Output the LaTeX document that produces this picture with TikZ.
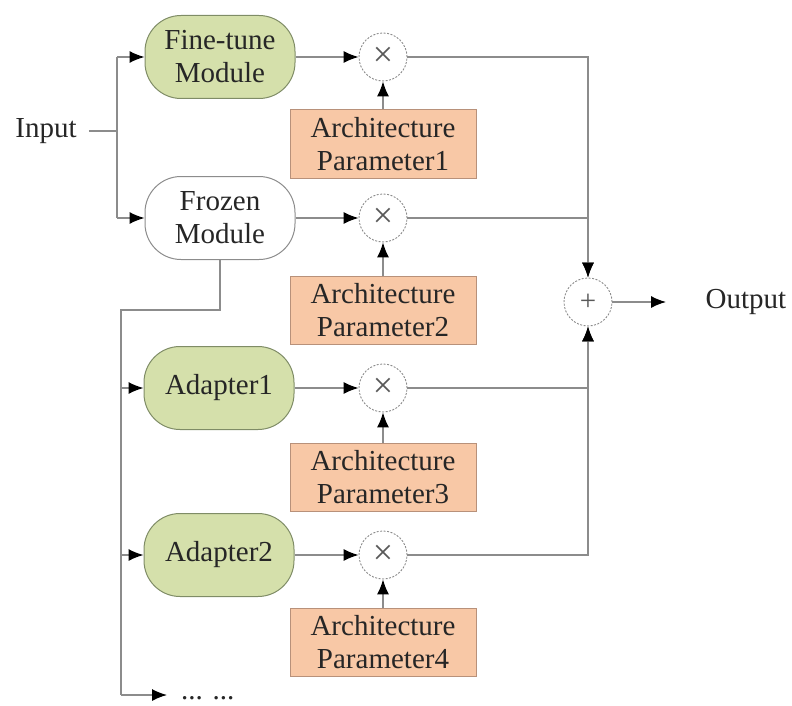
\documentclass[tikz,border=0pt]{standalone}
\usepackage{fontspec}
\setmainfont{Liberation Serif}
\usetikzlibrary{arrows.meta}
\definecolor{lnc}{HTML}{8C8C8C}
\definecolor{grn}{HTML}{D5E0AB}
\definecolor{grnb}{HTML}{7F8C66}
\definecolor{org}{HTML}{F8C8A6}
\definecolor{orgb}{HTML}{B8917A}
\begin{document}
\begin{tikzpicture}[x=1pt,y=-1pt, font=\fontsize{29}{33}\selectfont,
  conn/.style={draw=lnc, line width=1.3pt},
  arr/.style={conn, -{Latex[length=15pt,width=12pt,black]}},
  mod/.style={draw=grnb, fill=grn, rounded corners=36pt, minimum width=150pt, minimum height=83pt, align=center, inner sep=0pt, line width=1pt, text=black!85},
  frz/.style={mod, draw=lnc, fill=white},
  par/.style={draw=orgb, fill=org, minimum width=186pt, minimum height=68pt, align=center, inner sep=0pt, line width=1pt, text=black!85},
  op/.style={circle, draw=lnc, dash pattern=on 2pt off 1.5pt, minimum size=48pt, inner sep=0pt, fill=white, text=black!65, line width=0.9pt},
  lbl/.style={inner sep=0pt, text=black!85}]
\useasboundingbox (0,0) rectangle (792,706);
% nodes
\node[lbl] (in) at (46,131) {Input};
\node[mod] (ft) at (220,57) {Fine-tune\\Module};
\node[frz] (fz) at (220,218) {Frozen\\Module};
\node[mod] (a1) at (219,388) {Adapter1};
\node[mod] (a2) at (219,555) {Adapter2};
\node[op, font=\fontsize{36}{36}\selectfont] (m1) at (383,57) {×};
\node[op, font=\fontsize{36}{36}\selectfont] (m2) at (383,218) {×};
\node[op, font=\fontsize{36}{36}\selectfont] (m3) at (383,388) {×};
\node[op, font=\fontsize{36}{36}\selectfont] (m4) at (383,555) {×};
\node[par] (p1) at (383,144) {Architecture\\Parameter1};
\node[par] (p2) at (383,310) {Architecture\\Parameter2};
\node[par] (p3) at (383,477) {Architecture\\Parameter3};
\node[par] (p4) at (383,642) {Architecture\\Parameter4};
\node[op] (pl) at (588,302) {+};
\node[lbl] (out) at (746,302) {Output};
\node[lbl, anchor=base west] (dots) at (181,699) {... ...};
% coordinates
\coordinate (jin) at (117,131);
\coordinate (jt) at (117,57);
\coordinate (jb) at (117,218);
\coordinate (d1) at (220,310);
\coordinate (d2) at (121,310);
\coordinate (d3) at (121,695);
\coordinate (e1) at (121,388);
\coordinate (e2) at (121,555);
\coordinate (dend) at (167,695);
\coordinate (oe) at (666,302);
% connectors
\draw[conn, shorten <=12pt] (in.east) -- (jin);
\draw[conn] (jt) -- (jb);
\draw[arr] (jt) -- (ft.west);
\draw[arr] (jb) -- (fz.west);
\draw[conn] (fz.south) -- (d1) -- (d2) -- (d3);
\draw[arr] (d3) -- (dend);
\draw[arr] (e1) -- (a1.west);
\draw[arr] (e2) -- (a2.west);
\draw[arr] (ft.east) -- (m1.west);
\draw[arr] (fz.east) -- (m2.west);
\draw[arr] (a1.east) -- (m3.west);
\draw[arr] (a2.east) -- (m4.west);
\draw[arr] (p1.north) -- (m1.south);
\draw[arr] (p2.north) -- (m2.south);
\draw[arr] (p3.north) -- (m3.south);
\draw[arr] (p4.north) -- (m4.south);
\draw[arr] (m1.east) -| (pl.north);
\draw[arr] (m2.east) -| (pl.north);
\draw[arr] (m3.east) -| (pl.south);
\draw[arr] (m4.east) -| (pl.south);
\draw[arr] (pl.east) -- (oe);
\end{tikzpicture}
\end{document}
